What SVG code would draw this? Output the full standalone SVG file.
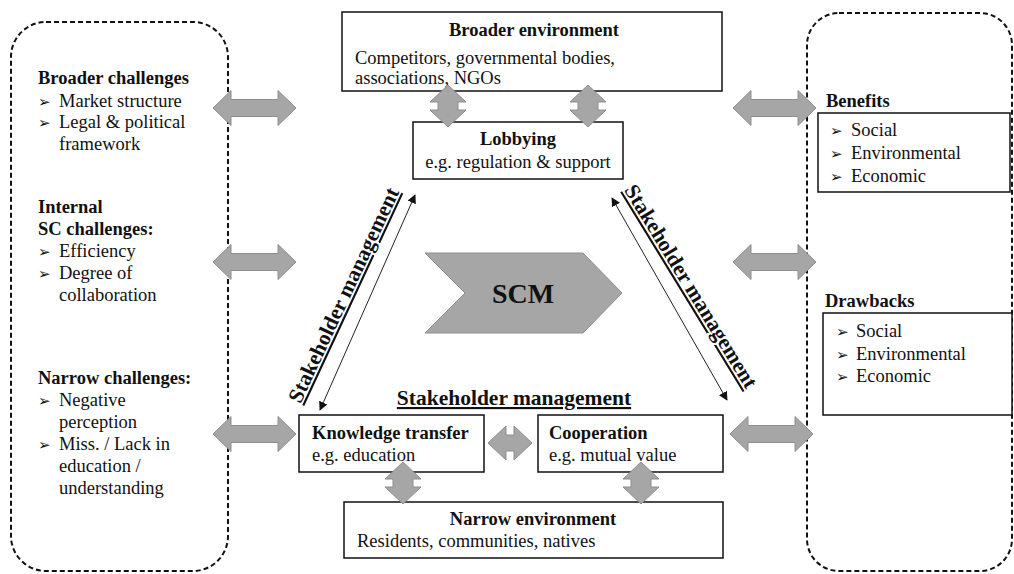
<svg xmlns="http://www.w3.org/2000/svg" width="1014" height="574" viewBox="0 0 1014 574">
<style>
text{font-family:"Liberation Serif","Times New Roman",serif;font-size:18.5px;fill:#111}
.b{font-weight:bold}
.bul{font-family:"DejaVu Sans",sans-serif;font-size:15px}
.box{fill:#fff;stroke:#111;stroke-width:1.5}
.dash{fill:none;stroke:#111;stroke-width:2;stroke-dasharray:5 3}
.ga{fill:#a6a6a6;stroke:#8e8e8e;stroke-width:1}
.thin{stroke:#222;stroke-width:1}
.h{font-size:21.5px;font-weight:bold;text-decoration:underline}
</style>
<defs>
<path id="ha" d="M0,0 L18,-17.5 L18,-8.5 L65,-8.5 L65,-17.5 L83,0 L65,17.5 L65,8.5 L18,8.5 L18,17.5 Z"/>
<path id="va" d="M0,0 L18,17 L10,17 L10,25 L18,25 L0,42 L-18,25 L-10,25 L-10,17 L-18,17 Z"/>
<path id="sa" d="M0,0 L18,-17 L18,-8 L26,-8 L26,-17 L44,0 L26,17 L26,8 L18,8 L18,17 Z"/>
<marker id="ah" viewBox="0 0 10 10" refX="9" refY="5" markerWidth="9" markerHeight="9" markerUnits="userSpaceOnUse" orient="auto-start-reverse">
<path d="M0,0 L10,5 L0,10 Z" fill="#111"/>
</marker>
</defs>

<g id="left-panel">
<rect class="dash" x="11" y="22" width="217" height="549" rx="35"/>
<text x="38" y="84" class="b">Broader challenges</text>
<text x="38" y="107"><tspan class="bul">➢</tspan><tspan x="59">Market structure</tspan></text>
<text x="38" y="128"><tspan class="bul">➢</tspan><tspan x="59">Legal &amp; political</tspan></text>
<text x="59" y="150">framework</text>
<text x="38" y="213" class="b">Internal</text>
<text x="38" y="235" class="b">SC challenges:</text>
<text x="38" y="257"><tspan class="bul">➢</tspan><tspan x="59">Efficiency</tspan></text>
<text x="38" y="279"><tspan class="bul">➢</tspan><tspan x="59">Degree of</tspan></text>
<text x="59" y="301">collaboration</text>
<text x="38" y="384" class="b">Narrow challenges:</text>
<text x="38" y="406"><tspan class="bul">➢</tspan><tspan x="59">Negative</tspan></text>
<text x="59" y="428">perception</text>
<text x="38" y="450"><tspan class="bul">➢</tspan><tspan x="59">Miss. / Lack in</tspan></text>
<text x="59" y="472">education /</text>
<text x="59" y="494">understanding</text>
</g>

<g id="right-panel">
<rect class="dash" x="807" y="13" width="205" height="558" rx="32"/>
</g>

<g id="benefits">
<text x="826" y="107" class="b">Benefits</text>
<rect class="box" x="818" y="113" width="192" height="79"/>
<text x="830" y="136"><tspan class="bul">➢</tspan><tspan x="851">Social</tspan></text>
<text x="830" y="159"><tspan class="bul">➢</tspan><tspan x="851">Environmental</tspan></text>
<text x="830" y="182"><tspan class="bul">➢</tspan><tspan x="851">Economic</tspan></text>
</g>

<g id="drawbacks">
<text x="825" y="307" class="b">Drawbacks</text>
<rect class="box" x="823" y="313" width="189" height="102"/>
<text x="836" y="337"><tspan class="bul">➢</tspan><tspan x="856">Social</tspan></text>
<text x="836" y="360"><tspan class="bul">➢</tspan><tspan x="856">Environmental</tspan></text>
<text x="836" y="382"><tspan class="bul">➢</tspan><tspan x="856">Economic</tspan></text>
</g>

<g id="broader-environment">
<rect class="box" x="342" y="12" width="380" height="79"/>
<text x="534" y="36" class="b" text-anchor="middle">Broader environment</text>
<text x="355" y="64">Competitors, governmental bodies,</text>
<text x="355" y="84">associations, NGOs</text>
</g>

<g id="lobbying">
<rect class="box" x="413" y="122" width="210" height="57"/>
<text x="518" y="145" class="b" text-anchor="middle">Lobbying</text>
<text x="518" y="168" text-anchor="middle">e.g. regulation &amp; support</text>
</g>

<g id="scm">
<polygon class="ga" points="425,253 583,253 622,293 583,333 425,333 465,293"/>
<text x="523" y="303" class="b" text-anchor="middle" style="font-size:28px">SCM</text>
</g>

<g id="stakeholder-heading">
<text x="514" y="405" class="h" text-anchor="middle">Stakeholder management</text>
</g>

<g id="knowledge-transfer">
<rect class="box" x="299" y="415" width="185" height="57"/>
<text x="312" y="439" class="b">Knowledge transfer</text>
<text x="312" y="461">e.g. education</text>
</g>

<g id="cooperation">
<rect class="box" x="538" y="415" width="185" height="57"/>
<text x="549" y="439" class="b">Cooperation</text>
<text x="549" y="461">e.g. mutual value</text>
</g>

<g id="narrow-environment">
<rect class="box" x="344" y="502" width="379" height="56"/>
<text x="533" y="525" class="b" text-anchor="middle">Narrow environment</text>
<text x="357" y="547">Residents, communities, natives</text>
</g>

<g id="connectors">
<use href="#ha" class="ga" transform="translate(213,108)"/>
<use href="#ha" class="ga" transform="translate(213,262)"/>
<use href="#ha" class="ga" transform="translate(213,434)"/>
<use href="#ha" class="ga" transform="translate(733,108)"/>
<use href="#ha" class="ga" transform="translate(733,262)"/>
<use href="#ha" class="ga" transform="translate(730,434)"/>
<use href="#va" class="ga" transform="translate(448,85)"/>
<use href="#va" class="ga" transform="translate(588,85)"/>
<use href="#va" class="ga" transform="translate(403,462)"/>
<use href="#va" class="ga" transform="translate(641,462)"/>
<use href="#sa" class="ga" transform="translate(488,443)"/>
<line class="thin" x1="320" y1="410" x2="415" y2="195" marker-start="url(#ah)" marker-end="url(#ah)"/>
<line class="thin" x1="612" y1="198" x2="727" y2="400" marker-start="url(#ah)" marker-end="url(#ah)"/>
<text class="h" text-anchor="middle" transform="translate(350,298) rotate(-65)">Stakeholder management</text>
<text class="h" text-anchor="middle" transform="translate(685,290) rotate(58.5)">Stakeholder management</text>
</g>
</svg>
